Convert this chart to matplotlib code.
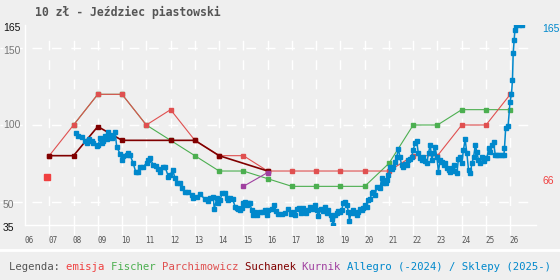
import numpy as np
import matplotlib
matplotlib.use("Agg")
import matplotlib.pyplot as plt
from matplotlib.lines import Line2D
from matplotlib.transforms import blended_transform_factory, offset_copy

BG = "#efefef"
C = {"emisja": "#f04040", "fischer": "#4caf50", "parch": "#e05050",
     "such": "#800000", "kurnik": "#a040a0", "allegro": "#0088cc",
     "text": "#555555"}
MONO = "DejaVu Sans Mono"

# ── Data ────────────────────────────────────────────────────────────────
emisja_year = [2006.9]
emisja_price = [66]

fischer_years = list(range(2008, 2027))
fischer_price = [100, 120, 120, 100, 90, 80, 70, 70, 65, 60, 60, 60, 60, 75,
                 100, 100, 110, 110, 110]

parch_years = list(range(2007, 2027))
parch_price = [80, 100, 120, 120, 100, 110, 90, 80, 80, 70, 70, 70, 70, 70,
               70, 80, 80, 100, 100, 120]

such_years = [2007, 2008, 2009, 2010, 2012, 2013, 2014, 2016]
such_price = [80, 80, 99, 90, 90, 90, 80, 70]

kurnik_years = [2015, 2016]
kurnik_price = [60, 69]

allegro_years = [
    2008.10, 2008.20, 2008.34, 2008.47, 2008.54, 2008.65, 2008.75, 2008.82, 2008.96, 2009.02,
    2009.09, 2009.16, 2009.23, 2009.30, 2009.37, 2009.43, 2009.50, 2009.57, 2009.64, 2009.71,
    2009.78, 2009.92, 2009.99, 2010.05, 2010.19, 2010.26, 2010.33, 2010.46, 2010.56, 2010.67,
    2010.74, 2010.88, 2011.02, 2011.08, 2011.15, 2011.29, 2011.40, 2011.49, 2011.56, 2011.68,
    2011.77, 2011.91, 2011.98, 2012.09, 2012.18, 2012.25, 2012.39, 2012.46, 2012.60, 2012.73,
    2012.87, 2012.94, 2013.08, 2013.21, 2013.42, 2013.56, 2013.63, 2013.76, 2013.80, 2013.90,
    2013.97, 2014.04, 2014.13, 2014.24, 2014.31, 2014.38, 2014.45, 2014.56, 2014.66, 2014.73,
    2014.79, 2014.86, 2014.93, 2015.00, 2015.07, 2015.14, 2015.20, 2015.27, 2015.34, 2015.41,
    2015.48, 2015.55, 2015.69, 2015.82, 2015.89, 2015.96, 2016.03, 2016.17, 2016.26, 2016.35,
    2016.44, 2016.58, 2016.72, 2016.85, 2016.95, 2017.06, 2017.13, 2017.22, 2017.31, 2017.36,
    2017.47, 2017.58, 2017.68, 2017.75, 2017.86, 2017.95, 2018.02, 2018.09, 2018.19, 2018.27,
    2018.37, 2018.44, 2018.50, 2018.60, 2018.64, 2018.71, 2018.78, 2018.85, 2018.91, 2018.98,
    2019.05, 2019.12, 2019.19, 2019.26, 2019.33, 2019.37, 2019.43, 2019.53, 2019.60, 2019.67,
    2019.74, 2019.81, 2019.88, 2019.94, 2020.01, 2020.08, 2020.15, 2020.22, 2020.29, 2020.36,
    2020.43, 2020.50, 2020.63, 2020.70, 2020.77, 2020.88, 2020.93, 2020.98, 2021.05, 2021.12,
    2021.18, 2021.25, 2021.32, 2021.39, 2021.45, 2021.52, 2021.59, 2021.66, 2021.73, 2021.80,
    2021.87, 2021.94, 2022.00, 2022.07, 2022.14, 2022.21, 2022.28, 2022.35, 2022.42, 2022.49,
    2022.56, 2022.63, 2022.70, 2022.77, 2022.83, 2022.90, 2022.97, 2023.04, 2023.11, 2023.18,
    2023.25, 2023.32, 2023.39, 2023.46, 2023.52, 2023.59, 2023.66, 2023.73, 2023.80, 2023.86,
    2023.93, 2024.00, 2024.07, 2024.14, 2024.21, 2024.28, 2024.35, 2024.42, 2024.49, 2024.56,
    2024.62, 2024.69, 2024.76, 2024.83, 2024.90, 2024.97, 2025.04, 2025.11, 2025.18, 2025.25,
    2025.31, 2025.38, 2025.45, 2025.55, 2025.65, 2025.74, 2025.76, 2025.81, 2025.91, 2025.99,
    2026.05, 2026.09, 2026.12, 2026.16, 2026.19, 2026.23, 2026.35, 2026.47,
]
allegro_price = [
    95.0, 92.8, 92.0, 89.8, 88.1, 90.7, 89.8, 88.5, 86.3, 87.0,
    91.3, 88.5, 89.8, 92.8, 90.7, 95.6, 93.5, 91.3, 92.8, 95.6,
    85.9, 81.1, 77.2, 79.8, 80.4, 81.9, 80.4, 75.0, 69.6, 69.6,
    72.8, 72.8, 75.4, 77.2, 78.3, 73.9, 73.3, 71.1, 69.6, 72.8,
    72.8, 66.3, 67.4, 70.7, 65.3, 62.0, 62.0, 58.7, 56.5, 56.5,
    54.4, 52.2, 53.3, 55.0, 51.6, 50.7, 52.2, 52.9, 45.0, 52.2,
    49.0, 51.1, 55.9, 55.5, 52.2, 51.1, 52.2, 51.6, 46.7, 45.7,
    45.0, 44.6, 45.7, 49.0, 50.0, 47.8, 49.3, 49.0, 44.6, 41.3,
    43.5, 41.3, 43.5, 43.5, 44.6, 41.3, 44.5, 45.0, 47.8, 44.1,
    42.0, 42.0, 42.4, 45.0, 42.0, 43.5, 41.3, 45.0, 45.7, 42.8,
    45.7, 42.4, 44.6, 46.3, 45.0, 47.8, 44.6, 40.7, 45.0, 44.1,
    46.7, 42.8, 44.6, 41.3, 38.5, 35.0, 41.3, 42.4, 44.1, 43.5,
    44.6, 49.3, 50.0, 47.8, 43.5, 37.6, 42.4, 44.6, 42.4, 41.3,
    43.5, 45.0, 44.6, 45.7, 47.8, 46.7, 51.1, 51.6, 55.5, 56.5,
    54.4, 59.8, 58.7, 65.3, 62.4, 62.4, 64.1, 67.4, 72.8, 71.1,
    72.4, 76.1, 79.3, 84.2, 79.3, 73.9, 72.8, 74.6, 73.9, 77.2,
    77.6, 79.3, 83.7, 88.1, 89.8, 81.6, 78.3, 77.2, 79.3, 76.7,
    75.0, 81.6, 87.0, 77.2, 81.6, 85.9, 79.3, 69.6, 77.2, 76.1,
    73.9, 75.0, 71.8, 70.7, 69.6, 71.8, 73.9, 70.2, 68.5, 77.6,
    78.9, 75.0, 83.7, 90.7, 81.6, 70.7, 68.5, 75.0, 79.3, 87.0,
    82.6, 77.2, 75.0, 79.3, 76.7, 78.3, 78.7, 84.8, 82.6, 87.0,
    89.1, 80.5, 80.5, 80.5, 80.5, 80.5, 84.8, 97.8, 99.3, 115.2,
    120.2, 129.3, 146.7, 155.4, 161.9, 165.0, 165.0, 165.0,
]

year_ticks = list(range(2006, 2027))
y_labels = [(165, "165", "#111111"), (150, "150", "#777777"),
            (100, "100", "#777777"), (50, "50", "#777777"), (35, "35", "#111111")]

# ── Figure ──────────────────────────────────────────────────────────────
fig = plt.figure(figsize=(5.6, 2.8), dpi=100, facecolor=BG)
ax = fig.add_axes([25 / 560, 55.3 / 280, 511 / 560, 199.4 / 280])
ax.set_facecolor(BG)
ax.set_xlim(2006, 2027.06)
ax.set_ylim(35, 165)

for s in ["top", "right"]:
    ax.spines[s].set_visible(False)
for s in ["left", "bottom"]:
    ax.spines[s].set_color("white")
    ax.spines[s].set_linewidth(1)

# grid
ax.hlines([50, 100, 150], 2006 - 25 / 24.26, 2027.06, colors="white", lw=1,
          linestyles=(5, (7, 7)), clip_on=False, zorder=1)
ax.vlines(year_ticks[1:], 35, 158.5, colors="white", lw=1,
          linestyles=(0, (7, 7)), zorder=1)

# x ticks: major = gridline stubs, minor = labels
ax.set_xticks(year_ticks[1:])
ax.set_xticklabels([])
ax.tick_params(axis="x", which="major", length=7, width=1, color="white")
ax.set_xticks([y + 0.16 for y in year_ticks], minor=True)
ax.set_xticklabels([f"{y % 100:02d}" for y in year_ticks], minor=True)
ax.tick_params(axis="x", which="minor", length=0, pad=8,
               labelsize=5.5, labelcolor=C["text"])
for t in ax.get_xticklabels(minor=True):
    t.set_family(MONO)
ax.set_yticks([])

for v, lab, col in y_labels:
    ax.annotate(lab, xy=(0, v), xycoords=("axes fraction", "data"),
                xytext=(-22, -3 if v != 100 else 0), textcoords="offset pixels",
                ha="left", va="center", fontsize=7.5, color=col,
                family="Liberation Sans", annotation_clip=False)

# ── Series ──────────────────────────────────────────────────────────────
ax.plot(fischer_years, fischer_price, color=C["fischer"], lw=0.8,
        marker="s", ms=3, zorder=3)
ax.plot(parch_years, parch_price, color=C["parch"], lw=0.8,
        marker="s", ms=3, zorder=4)
ax.plot(such_years, such_price, color=C["such"], lw=1.2,
        marker="s", ms=3, zorder=5)
ax.plot(kurnik_years, kurnik_price, color=C["kurnik"], lw=0.8,
        marker="s", ms=3, zorder=5)
ax.plot(emisja_year, emisja_price, ls="none", color=C["emisja"],
        marker="s", ms=3.8, zorder=5)
ax.plot(allegro_years, allegro_price, color=C["allegro"], lw=1.1,
        marker="s", ms=2.8, zorder=6)

# right-hand value labels
tr = blended_transform_factory(ax.transAxes, ax.transData)
ax.text(1.012, 165 - 2.5, "165", transform=tr, ha="left", va="center",
        fontsize=7.5, color=C["allegro"], family="Liberation Sans")
ax.text(1.012, 66 - 2.5, "66", transform=tr, ha="left", va="center",
        fontsize=7.5, color=C["emisja"], family="Liberation Sans")

# title
fig.text(35 / 560, 1 - 12 / 280, "10 zł - Jeździec piastowski", ha="left",
         va="center", fontsize=8.3, fontweight="bold", family=MONO,
         color=C["text"])

# separator + legend line
fig.add_artist(Line2D([0, 1], [1 - 249.5 / 280] * 2, transform=fig.transFigure,
                      color="white", lw=2))
parts = [("Legenda: ", C["text"]), ("emisja ", C["emisja"]),
         ("Fischer ", C["fischer"]), ("Parchimowicz ", C["parch"]),
         ("Suchanek ", C["such"]), ("Kurnik ", C["kurnik"]),
         ("Allegro (-2024) / Sklepy (2025-)", C["allegro"])]
renderer = fig.canvas.get_renderer()
x = 9
for txt, col in parts:
    t = fig.text(x / 560, 1 - 267 / 280, txt, ha="left", va="center",
                 fontsize=7.7, family=MONO, color=col)
    x += t.get_window_extent(renderer).width

fig.savefig("out.png", dpi=100, facecolor=BG)
